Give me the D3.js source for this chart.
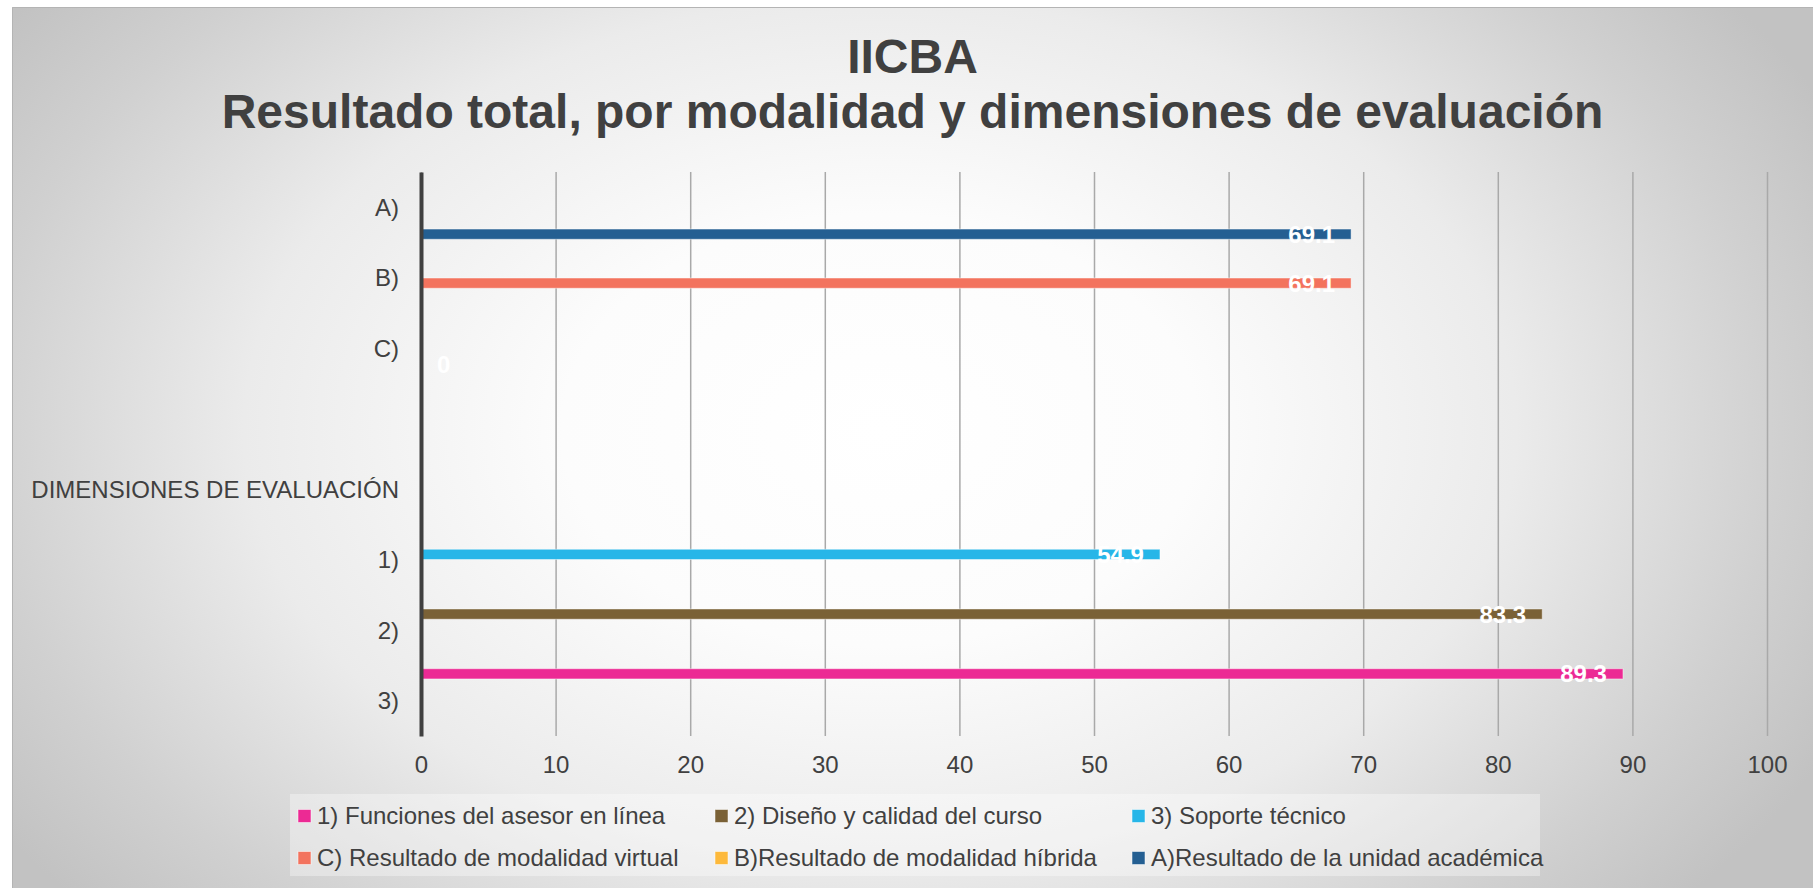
<!DOCTYPE html>
<html>
<head>
<meta charset="utf-8">
<script src="https://cdn.jsdelivr.net/npm/d3@7"></script>
<style>
  html, body { margin: 0; padding: 0; background: #ffffff; }
  svg { display: block; font-family: "Liberation Sans", Arial, sans-serif; }
</style>
</head>
<body>
<div id="my_dataviz"></div>
<script>
// ------------------------------------------ DATA -------------------------------------------
// categories top to bottom (empty one is the gap between the two blocks)
let categories = ["A)", "B)", "C)", "", "DIMENSIONES DE EVALUACIÓN", "1)", "2)", "3)"];

let seriesNames = [
  "1) Funciones del asesor en línea",
  "2) Diseño y calidad del curso",
  "3) Soporte técnico",
  "C) Resultado de modalidad virtual",
  "B)Resultado de modalidad híbrida",
  "A)Resultado de la unidad académica"
];
let seriesColors = ["#ec2a94", "#7a6136", "#27b6e8", "#f3735e", "#fdb93b", "#245f92"];

// one value per category, null = no bar
let funciones = [null, null, null, null, null, null, null, 89.3];
let diseno    = [null, null, null, null, null, null, 83.3, null];
let soporte   = [null, null, null, null, null, 54.9, null, null];
let virtual   = [null, 69.1, null, null, null, null, null, null];
let hibrida   = [null, null, 0, null, null, null, null, null];
let unidad    = [69.1, null, null, null, null, null, null, null];

let xTicks = [0, 10, 20, 30, 40, 50, 60, 70, 80, 90, 100];

let seriesValues = [funciones, diseno, soporte, virtual, hibrida, unidad];

// ------------------------------------------ CHART -------------------------------------------
var W = 1813, H = 888;
var margin = {top: 172, left: 421, right: W - 1767, bottom: H - 736};
var width = W - margin.left - margin.right,
    height = H - margin.top - margin.bottom;

var svg = d3.select("#my_dataviz")
  .append("svg")
    .attr("width", W)
    .attr("height", H);

// background: white in the middle, grey towards the edges (wider than tall)
var defs = svg.append("defs");
var grad = defs.append("radialGradient")
    .attr("id", "bg")
    .attr("gradientUnits", "userSpaceOnUse")
    .attr("cx", 0).attr("cy", 0).attr("r", 1)
    .attr("gradientTransform", "translate(880,430) scale(1060,720)");
grad.append("stop").attr("offset", "0%").attr("stop-color", "#ffffff");
grad.append("stop").attr("offset", "30%").attr("stop-color", "#fcfcfc");
grad.append("stop").attr("offset", "60%").attr("stop-color", "#ebebeb");
grad.append("stop").attr("offset", "85%").attr("stop-color", "#d0d0d0");
grad.append("stop").attr("offset", "100%").attr("stop-color", "#c2c2c2");

svg.append("rect")
  .attr("x", 12).attr("y", 7)
  .attr("width", W - 12).attr("height", H - 7)
  .attr("fill", "url(#bg)");
svg.append("path")
  .attr("d", "M12.5," + H + "V7.5H" + W)
  .attr("fill", "none")
  .attr("stroke", "#b4b4b4")
  .attr("stroke-width", 1);

// titles
svg.append("text")
  .attr("x", 912.5).attr("y", 73)
  .attr("text-anchor", "middle")
  .attr("font-size", 48).attr("font-weight", "bold")
  .attr("fill", "#404040")
  .text("IICBA");
svg.append("text")
  .attr("x", 912.5).attr("y", 128)
  .attr("text-anchor", "middle")
  .attr("font-size", 48).attr("font-weight", "bold")
  .attr("fill", "#404040")
  .text("Resultado total, por modalidad y dimensiones de evaluación");

var g = svg.append("g")
  .attr("transform", "translate(" + margin.left + "," + margin.top + ")");

var x = d3.scaleLinear()
  .domain([0, 100])
  .range([0, width]);

var y0 = d3.scaleBand()
  .domain(categories)
  .range([0, height])
  .padding(0);

var y1 = d3.scaleBand()
  .domain(seriesNames)
  .range([0, y0.bandwidth()])
  .paddingInner(0.05)
  .paddingOuter(0.3);

// vertical gridlines
g.append("g")
  .attr("class", "grid")
  .attr("transform", "translate(0," + height + ")")
  .call(d3.axisBottom(x).tickValues(xTicks).tickSize(-height).tickFormat(""))
  .call(s => s.select(".domain").remove())
  .call(s => s.selectAll("line")
      .attr("stroke", "#a9a9a9")
      .attr("stroke-width", 1.5));

// bars
let barData = [];
seriesValues.forEach(function(vals, si) {
  vals.forEach(function(v, ci) {
    if (v !== null) barData.push({series: seriesNames[si], color: seriesColors[si], cat: categories[ci], value: v});
  });
});

g.append("g")
  .selectAll("rect")
  .data(barData)
  .enter()
  .append("rect")
    .attr("x", x(0))
    .attr("y", d => y0(d.cat) + y1(d.series))
    .attr("width", d => x(d.value) - x(0))
    .attr("height", y1.bandwidth())
    .attr("fill", d => d.color)
    .attr("stroke", "rgba(255,255,255,0.45)")
    .attr("stroke-width", 1);

// x axis labels
g.append("g")
  .attr("transform", "translate(0," + height + ")")
  .call(d3.axisBottom(x).tickValues(xTicks).tickSize(0).tickPadding(20))
  .call(s => s.select(".domain").remove())
  .call(s => s.selectAll("text")
      .attr("font-size", 24)
      .attr("font-family", "Liberation Sans, Arial, sans-serif")
      .attr("fill", "#404040"));

// y axis
g.append("g")
  .call(d3.axisLeft(y0).tickSize(0).tickSizeOuter(0).tickPadding(22))
  .call(s => s.select(".domain")
      .attr("stroke", "#404040")
      .attr("stroke-width", 4))
  .call(s => s.selectAll("text")
      .attr("dy", "0.35em")
      .attr("font-size", 24)
      .attr("font-family", "Liberation Sans, Arial, sans-serif")
      .attr("fill", "#404040"));

// data labels
g.append("g")
  .selectAll("text")
  .data(barData)
  .enter()
  .append("text")
    .attr("x", d => d.value > 0 ? x(d.value) - 16 : x(0) + 16)
    .attr("y", d => y0(d.cat) + y1(d.series) + y1.bandwidth() / 2)
    .attr("dy", "0.35em")
    .attr("text-anchor", d => d.value > 0 ? "end" : "start")
    .attr("font-size", 24)
    .attr("font-weight", "bold")
    .attr("fill", "#ffffff")
    .text(d => d.value);

// legend
var legend = svg.append("g");
legend.append("rect")
  .attr("x", 290).attr("y", 794)
  .attr("width", 1250).attr("height", 82)
  .attr("fill", "#ffffff")
  .attr("fill-opacity", 0.35);

var item = legend.selectAll(".item")
  .data(seriesNames)
  .enter()
  .append("g")
    .attr("class", "item")
    .attr("transform", (d, i) => "translate(" + (298 + (i % 3) * 417) + "," + (816 + Math.floor(i / 3) * 42) + ")");

item.append("rect")
  .attr("x", 0).attr("y", -6.5)
  .attr("width", 13).attr("height", 13)
  .attr("fill", (d, i) => seriesColors[i])
  .attr("stroke", "rgba(255,255,255,0.5)")
  .attr("stroke-width", 1);

item.append("text")
  .attr("x", 19).attr("y", 8)
  .attr("font-size", 24)
  .attr("fill", "#404040")
  .text(d => d);
</script>
</body>
</html>
